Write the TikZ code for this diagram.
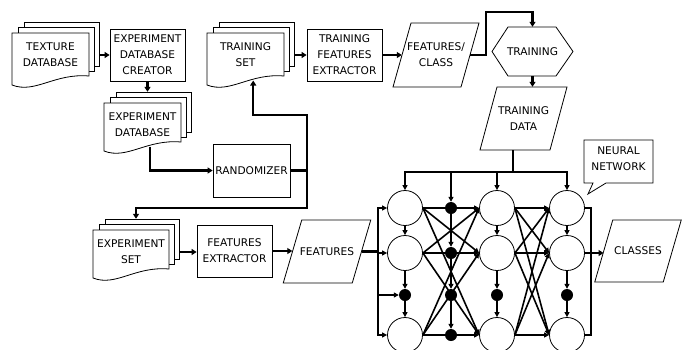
\documentclass[tikz,border=0pt]{standalone}
\usepackage{fontspec}
\setmainfont{DejaVu Sans}
\usetikzlibrary{arrows.meta}
\tikzset{
 every node/.style={font=\fontsize{10.6}{16}\selectfont, text=black},
 shp/.style={draw, line width=0.8pt, fill=white},
 box/.style={shp, inner sep=0pt, align=center},
 lbl/.style={align=center, inner sep=0pt},
 conn/.style={line width=2.2pt, -{Triangle[length=5pt,width=6pt]}},
 nnl/.style={line width=1.6pt, -{Triangle[length=5pt,width=5pt]}},
 neuron/.style={circle, draw, line width=0.8pt, fill=white, minimum size=35pt, inner sep=0pt},
 ndot/.style={circle, fill=black, minimum size=12pt, inner sep=0pt},
}
% multiple documents: name, x, y, w, h, text
\newcommand\mdoc[6]{%
 \filldraw[shp] ({#2+12},{#3-11}) rectangle ({#2+#4+10},{#3+#5-19});
 \filldraw[shp] ({#2+6},{#3-5.5}) rectangle ({#2+#4+5},{#3+#5-14});
 \filldraw[shp] (#2,#3) -- ({#2+#4},#3) -- ({#2+#4},{#3+#5-9}) .. controls ({#2+0.55*#4},{#3+#5-12}) and ({#2+0.3*#4},{#3+#5+9}) .. (#2,{#3+#5}) -- cycle;
 \node[lbl] (#1-t) at ({#2+#4/2},{#3+22}) {#6};
 \node[inner sep=0pt, minimum width={#4+10}, minimum height={#5+11}] (#1) at ({#2+(#4+10)/2},{#3+(#5-11)/2}) {};
 \coordinate (#1-b) at ({#2+0.6*#4},{#3+#5-4.5});
}
% parallelogram: name, cx, cy, w, h, slant, text
\newcommand\para[7]{%
 \filldraw[shp] ({#2-#4/2+#6/2},{#3-#5/2}) -- ({#2+#4/2+#6/2},{#3-#5/2}) -- ({#2+#4/2-#6/2},{#3+#5/2}) -- ({#2-#4/2-#6/2},{#3+#5/2}) -- cycle;
 \node[lbl, minimum width={#4}, minimum height={#5}] (#1) at (#2,#3) {#7};
}
\begin{document}
\begin{tikzpicture}[x=1pt,y=-1pt]
\useasboundingbox (0,0) rectangle (685,349);

% ---- document stacks
\mdoc{tex}{12}{33}{77}{52}{TEXTURE\\DATABASE}
\mdoc{edb}{104}{103}{77}{48}{EXPERIMENT\\DATABASE}
\mdoc{ts}{207}{33}{77}{52}{TRAINING\\SET}
\mdoc{es}{93}{230}{76}{48}{EXPERIMENT\\SET}

% ---- process boxes
\node[box, minimum width=75pt, minimum height=52pt] (cre) at (147.5,55) {EXPERIMENT\\DATABASE\\CREATOR};
\node[box, minimum width=75pt, minimum height=52pt] (tfe) at (344.5,55) {TRAINING\\FEATURES\\EXTRACTOR};
\node[box, minimum width=77pt, minimum height=53pt] (rand) at (251.5,170.5) {RANDOMIZER};
\node[box, minimum width=75pt, minimum height=52pt] (fe) at (234.5,251) {FEATURES\\EXTRACTOR};

% ---- data (parallelograms)
\para{fc}{436}{55}{68}{64}{18}{FEATURES/\\CLASS}
\para{td}{523.5}{118.5}{70}{63}{17}{TRAINING\\DATA}
\para{feat}{327}{251.5}{69}{63}{18.5}{FEATURES}
\para{cls}{638}{251}{68.5}{62}{18}{CLASSES}

% ---- training hexagon
\filldraw[shp] (492,51.5) -- (508,27) -- (556,27) -- (573,51.5) -- (556,76) -- (508,76) -- cycle;
\node[lbl, minimum width=81pt, minimum height=49pt] (train) at (532.5,51.5) {TRAINING};

% ---- callout
\filldraw[shp] (584,140) -- (653,140) -- (653,183) -- (606,183) -- (588,194) -- (593,183) -- (584,183) -- cycle;
\node[lbl] (nn) at (618.5,159) {NEURAL\\NETWORK};

% ---- neural network nodes
\node[neuron] (c11) at (405,208) {};
\node[neuron] (c12) at (405,253) {};
\node[ndot]   (d13) at (405,295) {};
\node[neuron] (c14) at (405,335) {};
\node[ndot] (e1) at (451,208) {};
\node[ndot] (e2) at (451,253) {};
\node[ndot] (e3) at (451,295) {};
\node[ndot] (e4) at (451,335) {};
\node[neuron] (c31) at (497,208) {};
\node[neuron] (c32) at (497,253) {};
\node[ndot]   (d33) at (497,295) {};
\node[neuron] (c34) at (497,335) {};
\node[neuron] (c41) at (567,208) {};
\node[neuron] (c42) at (567,253) {};
\node[ndot]   (d43) at (567,295) {};
\node[neuron] (c44) at (567,335) {};

% ---- flow connectors
\draw[conn] (tex-t -| tex.east) -- (tex-t -| cre.west);
\draw[conn] (cre.south) -- (cre.south |- edb.north);
\draw[conn] (edb-b) -- (edb-b |- rand.west) -- (rand.west);
\draw[conn] (ts-t -| ts.east) -- (ts-t -| tfe.west);
\draw[conn] (tfe.east) -- (fc.west);
\coordinate (t1) at (486,12);
\draw[conn] (fc.east) -- (fc.east -| t1) -- (t1) -- (t1 -| train.north) -- (train.north);
\draw[conn] (train.south) -- (train.south |- td.north);
\coordinate (sp) at (307,170.5);
\coordinate (up) at (307,115);
\coordinate (dn) at (307,208);
\draw[conn] (rand.east) -- (sp) -- (up) -- (up -| ts-b) -- (ts-b);
\draw[conn] (sp) -- (dn) -- (dn -| es.north) -- (es.north);
\draw[conn] (es-t -| es.east) -- (es-t -| fe.west);
\draw[conn] (fe.east) -- (fe.east -| feat.west);

% ---- training data bus
\coordinate (bus) at (513,172);
\draw[line width=2.6pt] (bus |- td.south) -- (bus);
\draw[line width=2pt, line cap=rect] (c11 |- bus) -- (c41 |- bus);
\draw[nnl] (c11 |- bus) -- (c11.north);
\draw[nnl] (e1 |- bus) -- (e1.north);
\draw[nnl] (c31 |- bus) -- (c31.north);
\draw[nnl] (c41 |- bus) -- (c41.north);

% ---- input bus
\coordinate (ib1) at (378,208);
\coordinate (ib4) at (378,335);
\draw[line width=2.6pt] (feat.east) -- (feat.east -| ib1);
\draw[line width=1.8pt, line cap=rect] (ib1) -- (ib4);
\draw[nnl] (ib1) -- (c11.west);
\draw[nnl] (c12.west -| ib1) -- (c12.west);
\draw[nnl] (d13.west -| ib1) -- (d13.west);
\draw[nnl] (ib4) -- (c14.west);

% ---- vertical chains
\foreach \c in {1,3,4}{
  \draw[nnl] (c\c1.south) -- (c\c2.north);
  \draw[nnl] (c\c2.south) -- (d\c3.north);
  \draw[nnl] (d\c3.south) -- (c\c4.north);
}
\draw[nnl] (e1.south) -- (e2.north);
\draw[nnl] (e2.south) -- (e3.north);
\draw[nnl] (e3.south) -- (e4.north);

% ---- full connections
\foreach \a in {c11,c12,c14}{\foreach \b in {c31,c32,c34}{\draw[nnl] (\a.east) -- (\b.west);}}
\foreach \a in {c31,c32,c34}{\foreach \b in {c41,c42,c44}{\draw[nnl] (\a.east) -- (\b.west);}}

% ---- output bus
\coordinate (ob1) at (591,208);
\coordinate (ob4) at (591,335);
\draw[line width=1.8pt] (c41.east) -- (ob1) -- (ob4) -- (c44.east);
\draw[conn] (c42.east) -- (c42.east -| cls.west);
\end{tikzpicture}
\end{document}
